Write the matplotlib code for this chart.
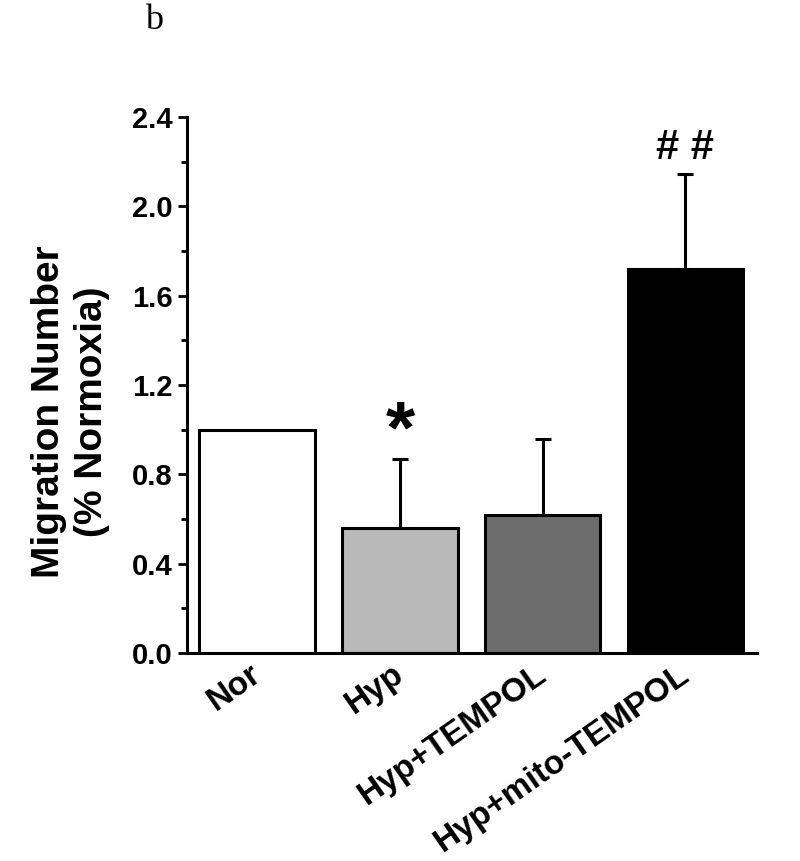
import numpy as np
import matplotlib.pyplot as plt
from matplotlib.ticker import MultipleLocator
from matplotlib.transforms import ScaledTranslation

plt.rcParams['font.family'] = ['Liberation Sans', 'DejaVu Sans']

# Data
groups = ["Nor", "Hyp", "Hyp+TEMPOL", "Hyp+mito-TEMPOL"]
means = [1.00, 0.56, 0.62, 1.72]
errors = [0.00, 0.31, 0.34, 0.425]
colors = ["white", "#b9b9b9", "#6c6c6c", "black"]
marks = ["", "*", "", "# #"]

fig = plt.figure(figsize=(8, 8.61), dpi=100)
ax = fig.add_axes([0.234, 0.2416, 0.712, 0.6225])

x = np.arange(len(groups))
ax.bar(x, means, width=0.81, color=colors, edgecolor="black", linewidth=2.2, zorder=2)
ax.errorbar(x[1:], means[1:], yerr=[np.zeros(3), errors[1:]], fmt="none",
            ecolor="black", elinewidth=2.2, capsize=6, capthick=2.2, zorder=1)

# significance marks above the error bars
for xi, m, e, s in zip(x, means, errors, marks):
    if s == "*":
        ax.text(xi, m + e - 0.04, s, ha="center", va="bottom", fontsize=54,
                fontweight="bold")
    elif s:
        ax.text(xi, m + e + 0.025, s, ha="center", va="bottom", fontsize=30,
                fontweight="bold")

ax.set_xlim(-0.49, 3.5)
ax.set_ylim(0, 2.4)
ax.yaxis.set_major_locator(MultipleLocator(0.4))
ax.yaxis.set_minor_locator(MultipleLocator(0.2))
ax.yaxis.set_major_formatter(plt.FormatStrFormatter("%.1f"))

ax.spines["top"].set_visible(False)
ax.spines["right"].set_visible(False)
ax.spines["left"].set_linewidth(2.2)
ax.spines["bottom"].set_linewidth(2.2)
ax.tick_params(axis="y", which="major", length=6.5, width=2, labelsize=21, pad=4)
ax.tick_params(axis="y", which="minor", length=4.3, width=2)
ax.tick_params(axis="x", length=0, pad=4)
for lab in ax.get_yticklabels():
    lab.set_fontweight("bold")

ax.set_xticks(x)
ax.set_xticklabels(groups, rotation=35, ha="right", va="top", rotation_mode="anchor",
                   fontsize=24, fontweight="bold")
shift = ScaledTranslation(-6 / 72, 0, fig.dpi_scale_trans)
for lab in ax.get_xticklabels():
    lab.set_transform(lab.get_transform() + shift)

ax.set_ylabel("Migration Number\n(% Normoxia)", fontsize=28, fontweight="bold",
              linespacing=1.25)
ax.yaxis.set_label_coords(-0.135, 0.45)

fig.text(0.181, 0.995, "b", fontsize=26, family="Liberation Serif", va="top")

fig.savefig("out.png", dpi=100, facecolor="white")
